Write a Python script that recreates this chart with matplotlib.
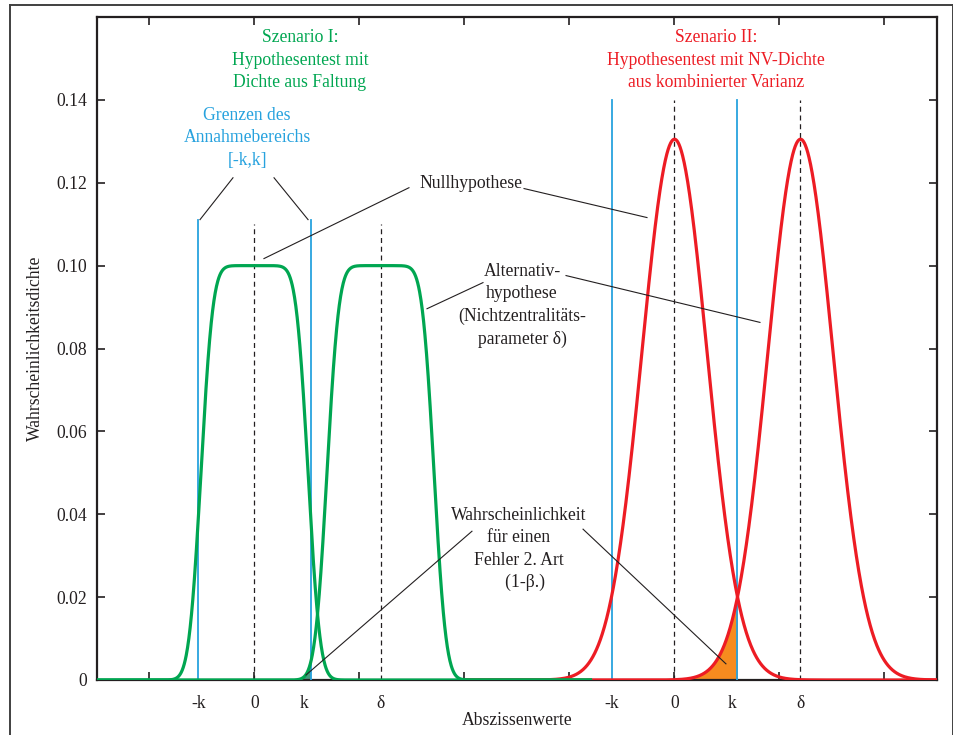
import math
import numpy as np
import matplotlib
matplotlib.use("Agg")
import matplotlib.pyplot as plt
from matplotlib.lines import Line2D

plt.rcParams['font.family'] = 'serif'
plt.rcParams['font.serif'] = ['Liberation Serif', 'DejaVu Serif']

# Achsen
x_ticks = [0, 1, 2, 3, 4, 5, 6, 7]
y_ticks = [0, 0.02, 0.04, 0.06, 0.08, 0.10, 0.12, 0.14]
y_tick_labels = ['0', '0.02', '0.04', '0.06', '0.08', '0.10', '0.12', '0.14']

# Szenario I: Dichte aus Faltung (Plateau)
mu0_I = 1.0
delta_I = 2.2
k_I = 0.535
plateau_height = 0.10
plateau_halfwidth = 0.51
plateau_sigma = 0.09

# Szenario II: NV-Dichte
mu0_II = 5.0
delta_II = 6.2
k_II = 0.6
peak_II = 0.1305
sigma_II = 0.31

# Beschriftung der Abszisse
x_label_pos = [0.465, 1.0, 1.47, 2.2, 4.4, 5.0, 5.55, 6.2]
x_label_txt = ['-k', '0', 'k', 'δ', '-k', '0', 'k', 'δ']

GREEN = '#00a651'
RED = '#ed1c24'
BLUE = '#27a2de'
ORANGE = '#f68b1f'
TEAL = '#459a7c'
INK = '#231f20'

erf = np.vectorize(math.erf)


def phi(z):
    return 0.5 * (1 + erf(z / math.sqrt(2)))


def plateau(x, c):
    return plateau_height * (phi((x - c + plateau_halfwidth) / plateau_sigma)
                             - phi((x - c - plateau_halfwidth) / plateau_sigma))


def nv(x, c):
    return peak_II * np.exp(-(x - c) ** 2 / (2 * sigma_II ** 2))


fig = plt.figure(figsize=(9.54, 7.35), dpi=100)
ax = fig.add_axes([97 / 954, 1 - 680 / 735, 840 / 954, 663 / 735])

# Flächen (Fehler 2. Art)
xf = np.linspace(mu0_I - k_I, mu0_I + k_I, 300)
ax.fill_between(xf, 0, plateau(xf, delta_I), color=TEAL, lw=0, zorder=2)
xf = np.linspace(mu0_II - k_II, mu0_II + k_II, 300)
ax.fill_between(xf, 0, nv(xf, delta_II), color=ORANGE, lw=0, zorder=2)

# Grenzen und Erwartungswerte
for xv in [mu0_I - k_I, mu0_I + k_I]:
    ax.plot([xv, xv], [0, 0.111], color=BLUE, lw=1.3, zorder=3)
for xv in [mu0_II - k_II, mu0_II + k_II]:
    ax.plot([xv, xv], [0, 0.14], color=BLUE, lw=1.3, zorder=3)
for xv in [mu0_I, delta_I]:
    ax.plot([xv, xv], [0, 0.11], color=INK, lw=0.9, ls=(0, (4, 3)), zorder=3)
for xv in [mu0_II, delta_II]:
    ax.plot([xv, xv], [0, 0.14], color=INK, lw=0.9, ls=(0, (4, 3)), zorder=3)

# Dichten
xr = np.linspace(3.0, 7.5, 1500)
ax.plot(xr, nv(xr, mu0_II), color=RED, lw=2.3, zorder=4)
ax.plot(xr, nv(xr, delta_II), color=RED, lw=2.3, zorder=4)
xg = np.linspace(-0.5, 4.2, 1500)
ax.plot(xg, plateau(xg, mu0_I), color=GREEN, lw=2.3, zorder=5)
ax.plot(xg, plateau(xg, delta_I), color=GREEN, lw=2.3, zorder=5)

# Texte
fs = 12.7
ls = 1.42
ax.text(1.433, 0.1496, 'Szenario I:\nHypothesentest mit\nDichte aus Faltung',
        color=GREEN, fontsize=fs, ha='center', va='center', linespacing=ls)
ax.text(5.395, 0.1496, 'Szenario II:\nHypothesentest mit NV-Dichte\naus kombinierter Varianz',
        color=RED, fontsize=fs, ha='center', va='center', linespacing=ls)
ax.text(0.93, 0.1308, 'Grenzen des\nAnnahmebereichs\n[-k,k]',
        color=BLUE, fontsize=fs, ha='center', va='center', linespacing=ls)
ax.text(3.062, 0.1198, 'Nullhypothese', color=INK, fontsize=fs, ha='center', va='center')
ax.text(3.548, 0.0904, 'Alternativ-\nhypothese\n(Nichtzentralitäts-\nparameter δ)',
        color=INK, fontsize=fs, ha='center', va='center', linespacing=ls)
ax.text(3.519, 0.0316, 'Wahrscheinlichkeit\nfür einen\nFehler 2. Art\n   (1-β.)',
        color=INK, fontsize=fs, ha='center', va='center', linespacing=ls)

# Hinweislinien
leaders = [
    ((0.795, 0.1212), (0.481, 0.1111)),
    ((1.186, 0.1212), (1.510, 0.1111)),
    ((2.471, 0.1188), (1.090, 0.1017)),
    ((3.567, 0.1186), (4.738, 0.1116)),
    ((3.176, 0.0959), (2.643, 0.0896)),
    ((3.967, 0.0976), (5.814, 0.0863)),
    ((3.071, 0.0359), (1.490, 0.0012)),
    ((4.129, 0.0364), (5.490, 0.0039)),
]
for (x0, y0), (x1, y1) in leaders:
    ax.plot([x0, x1], [y0, y1], color=INK, lw=0.8, zorder=6)

# Abszissenbeschriftung (-k, 0, k, δ)
for xp, t in zip(x_label_pos, x_label_txt):
    ax.text(xp, -0.035, t, transform=ax.get_xaxis_transform(), fontsize=fs,
            color=INK, ha='center', va='center')

ax.set_xlim(-0.5, 7.5)
ax.set_ylim(0, 0.16)
ax.set_xticks(x_ticks)
ax.set_xticklabels([])
ax.set_yticks(y_ticks, y_tick_labels)
ax.tick_params(which='major', direction='in', length=6, width=1.2, color=INK,
               top=True, right=True, labelsize=fs, labelcolor=INK, pad=7)
for s in ax.spines.values():
    s.set_linewidth(1.6)
    s.set_color(INK)

ax.set_xlabel('Abszissenwerte', fontsize=fs, color=INK, labelpad=16)
ax.set_ylabel('Wahrscheinlichkeitsdichte', fontsize=fs, color=INK, labelpad=9)

# äußerer Rahmen
x0f, x1f, ytf = 10 / 954, 953 / 954, 1 - 5 / 735
for xs, ys in [([x0f, x0f], [-0.01, ytf]), ([x0f, x1f], [ytf, ytf]), ([x1f, x1f], [ytf, -0.01])]:
    fig.add_artist(Line2D(xs, ys, transform=fig.transFigure, color='#404040', lw=1.4))

fig.savefig('out.png', dpi=100)
